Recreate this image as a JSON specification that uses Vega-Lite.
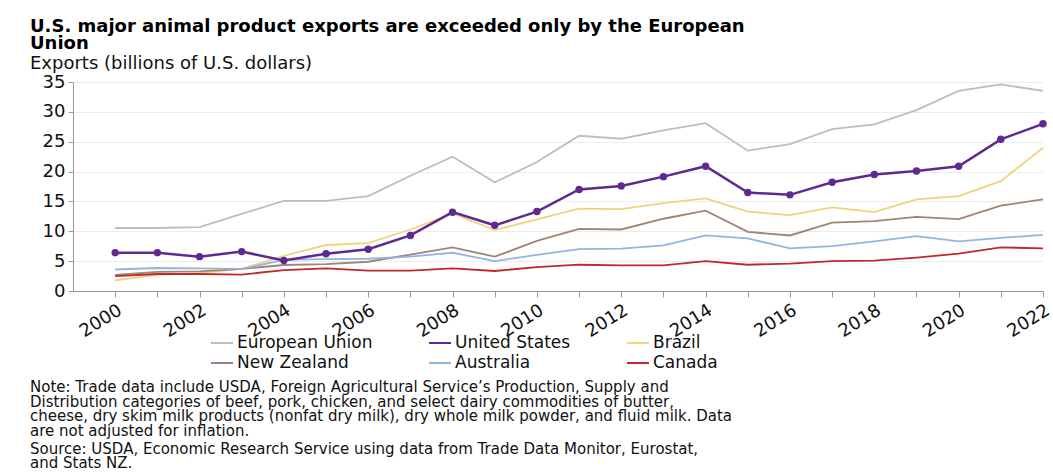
{
  "$schema": "https://vega.github.io/schema/vega-lite/v6.json",
  "padding": {"left": 30, "top": 18, "right": 10, "bottom": 0},
  "background": "white",
  "config": {
    "font": "DejaVu Sans",
    "view": {"stroke": null},
    "axis": {"labelFont": "DejaVu Sans", "labelColor": "#111", "domainColor": "#9a9a9a", "tickColor": "#9a9a9a"}
  },
  "title": {
    "text": [
      "Note: Trade data include USDA, Foreign Agricultural Service’s Production, Supply and",
      "Distribution categories of beef, pork, chicken, and select dairy commodities of butter,",
      "cheese, dry skim milk products (nonfat dry milk), dry whole milk powder, and fluid milk. Data",
      "are not adjusted for inflation."
    ],
    "subtitle": ["Source: USDA, Economic Research Service using data from Trade Data Monitor, Eurostat,", "and Stats NZ."],
    "orient": "bottom",
    "anchor": "start",
    "font": "DejaVu Sans",
    "fontSize": 15,
    "fontWeight": "normal",
    "lineHeight": 14.5,
    "color": "#111",
    "subtitleFont": "DejaVu Sans",
    "subtitleFontSize": 15,
    "subtitleLineHeight": 14.5,
    "subtitleColor": "#111",
    "subtitlePadding": 3,
    "offset": 9
  },
  "datasets": {
    "exports": [
      {"year": 2000, "country": "European Union", "value": 10.55},
      {"year": 2001, "country": "European Union", "value": 10.55},
      {"year": 2002, "country": "European Union", "value": 10.7},
      {"year": 2003, "country": "European Union", "value": 12.9},
      {"year": 2004, "country": "European Union", "value": 15.1},
      {"year": 2005, "country": "European Union", "value": 15.1},
      {"year": 2006, "country": "European Union", "value": 15.9},
      {"year": 2007, "country": "European Union", "value": 19.3},
      {"year": 2008, "country": "European Union", "value": 22.5},
      {"year": 2009, "country": "European Union", "value": 18.2},
      {"year": 2010, "country": "European Union", "value": 21.6},
      {"year": 2011, "country": "European Union", "value": 26.0},
      {"year": 2012, "country": "European Union", "value": 25.5},
      {"year": 2013, "country": "European Union", "value": 26.9},
      {"year": 2014, "country": "European Union", "value": 28.1},
      {"year": 2015, "country": "European Union", "value": 23.5},
      {"year": 2016, "country": "European Union", "value": 24.6},
      {"year": 2017, "country": "European Union", "value": 27.1},
      {"year": 2018, "country": "European Union", "value": 27.9},
      {"year": 2019, "country": "European Union", "value": 30.3},
      {"year": 2020, "country": "European Union", "value": 33.5},
      {"year": 2021, "country": "European Union", "value": 34.6},
      {"year": 2022, "country": "European Union", "value": 33.5},
      {"year": 2000, "country": "United States", "value": 6.4},
      {"year": 2001, "country": "United States", "value": 6.4},
      {"year": 2002, "country": "United States", "value": 5.75},
      {"year": 2003, "country": "United States", "value": 6.6},
      {"year": 2004, "country": "United States", "value": 5.1},
      {"year": 2005, "country": "United States", "value": 6.25},
      {"year": 2006, "country": "United States", "value": 7.0},
      {"year": 2007, "country": "United States", "value": 9.3},
      {"year": 2008, "country": "United States", "value": 13.2},
      {"year": 2009, "country": "United States", "value": 11.0},
      {"year": 2010, "country": "United States", "value": 13.3},
      {"year": 2011, "country": "United States", "value": 17.0},
      {"year": 2012, "country": "United States", "value": 17.6},
      {"year": 2013, "country": "United States", "value": 19.15},
      {"year": 2014, "country": "United States", "value": 20.9},
      {"year": 2015, "country": "United States", "value": 16.5},
      {"year": 2016, "country": "United States", "value": 16.1},
      {"year": 2017, "country": "United States", "value": 18.2},
      {"year": 2018, "country": "United States", "value": 19.5},
      {"year": 2019, "country": "United States", "value": 20.1},
      {"year": 2020, "country": "United States", "value": 20.9},
      {"year": 2021, "country": "United States", "value": 25.4},
      {"year": 2022, "country": "United States", "value": 28.0},
      {"year": 2000, "country": "Brazil", "value": 1.8},
      {"year": 2001, "country": "Brazil", "value": 2.7},
      {"year": 2002, "country": "Brazil", "value": 3.0},
      {"year": 2003, "country": "Brazil", "value": 3.7},
      {"year": 2004, "country": "Brazil", "value": 5.9},
      {"year": 2005, "country": "Brazil", "value": 7.7},
      {"year": 2006, "country": "Brazil", "value": 8.0},
      {"year": 2007, "country": "Brazil", "value": 10.3},
      {"year": 2008, "country": "Brazil", "value": 13.0},
      {"year": 2009, "country": "Brazil", "value": 10.2},
      {"year": 2010, "country": "Brazil", "value": 12.0},
      {"year": 2011, "country": "Brazil", "value": 13.8},
      {"year": 2012, "country": "Brazil", "value": 13.7},
      {"year": 2013, "country": "Brazil", "value": 14.7},
      {"year": 2014, "country": "Brazil", "value": 15.5},
      {"year": 2015, "country": "Brazil", "value": 13.3},
      {"year": 2016, "country": "Brazil", "value": 12.7},
      {"year": 2017, "country": "Brazil", "value": 14.0},
      {"year": 2018, "country": "Brazil", "value": 13.2},
      {"year": 2019, "country": "Brazil", "value": 15.35},
      {"year": 2020, "country": "Brazil", "value": 15.9},
      {"year": 2021, "country": "Brazil", "value": 18.4},
      {"year": 2022, "country": "Brazil", "value": 24.0},
      {"year": 2000, "country": "New Zealand", "value": 2.7},
      {"year": 2001, "country": "New Zealand", "value": 3.2},
      {"year": 2002, "country": "New Zealand", "value": 3.3},
      {"year": 2003, "country": "New Zealand", "value": 3.7},
      {"year": 2004, "country": "New Zealand", "value": 4.35},
      {"year": 2005, "country": "New Zealand", "value": 4.5},
      {"year": 2006, "country": "New Zealand", "value": 4.9},
      {"year": 2007, "country": "New Zealand", "value": 6.1},
      {"year": 2008, "country": "New Zealand", "value": 7.3},
      {"year": 2009, "country": "New Zealand", "value": 5.75},
      {"year": 2010, "country": "New Zealand", "value": 8.4},
      {"year": 2011, "country": "New Zealand", "value": 10.4},
      {"year": 2012, "country": "New Zealand", "value": 10.3},
      {"year": 2013, "country": "New Zealand", "value": 12.1},
      {"year": 2014, "country": "New Zealand", "value": 13.45},
      {"year": 2015, "country": "New Zealand", "value": 9.9},
      {"year": 2016, "country": "New Zealand", "value": 9.3},
      {"year": 2017, "country": "New Zealand", "value": 11.45},
      {"year": 2018, "country": "New Zealand", "value": 11.7},
      {"year": 2019, "country": "New Zealand", "value": 12.4},
      {"year": 2020, "country": "New Zealand", "value": 12.05},
      {"year": 2021, "country": "New Zealand", "value": 14.3},
      {"year": 2022, "country": "New Zealand", "value": 15.35},
      {"year": 2000, "country": "Australia", "value": 3.6},
      {"year": 2001, "country": "Australia", "value": 3.85},
      {"year": 2002, "country": "Australia", "value": 3.8},
      {"year": 2003, "country": "Australia", "value": 3.7},
      {"year": 2004, "country": "Australia", "value": 5.2},
      {"year": 2005, "country": "Australia", "value": 5.35},
      {"year": 2006, "country": "Australia", "value": 5.4},
      {"year": 2007, "country": "Australia", "value": 5.75},
      {"year": 2008, "country": "Australia", "value": 6.4},
      {"year": 2009, "country": "Australia", "value": 5.0},
      {"year": 2010, "country": "Australia", "value": 6.05},
      {"year": 2011, "country": "Australia", "value": 7.0},
      {"year": 2012, "country": "Australia", "value": 7.1},
      {"year": 2013, "country": "Australia", "value": 7.65},
      {"year": 2014, "country": "Australia", "value": 9.3},
      {"year": 2015, "country": "Australia", "value": 8.8},
      {"year": 2016, "country": "Australia", "value": 7.15},
      {"year": 2017, "country": "Australia", "value": 7.5},
      {"year": 2018, "country": "Australia", "value": 8.3},
      {"year": 2019, "country": "Australia", "value": 9.2},
      {"year": 2020, "country": "Australia", "value": 8.3},
      {"year": 2021, "country": "Australia", "value": 8.9},
      {"year": 2022, "country": "Australia", "value": 9.4},
      {"year": 2000, "country": "Canada", "value": 2.5},
      {"year": 2001, "country": "Canada", "value": 2.85},
      {"year": 2002, "country": "Canada", "value": 2.85},
      {"year": 2003, "country": "Canada", "value": 2.75},
      {"year": 2004, "country": "Canada", "value": 3.5},
      {"year": 2005, "country": "Canada", "value": 3.8},
      {"year": 2006, "country": "Canada", "value": 3.4},
      {"year": 2007, "country": "Canada", "value": 3.4},
      {"year": 2008, "country": "Canada", "value": 3.8},
      {"year": 2009, "country": "Canada", "value": 3.35},
      {"year": 2010, "country": "Canada", "value": 4.0},
      {"year": 2011, "country": "Canada", "value": 4.4},
      {"year": 2012, "country": "Canada", "value": 4.3},
      {"year": 2013, "country": "Canada", "value": 4.3},
      {"year": 2014, "country": "Canada", "value": 5.0},
      {"year": 2015, "country": "Canada", "value": 4.4},
      {"year": 2016, "country": "Canada", "value": 4.6},
      {"year": 2017, "country": "Canada", "value": 5.0},
      {"year": 2018, "country": "Canada", "value": 5.1},
      {"year": 2019, "country": "Canada", "value": 5.6},
      {"year": 2020, "country": "Canada", "value": 6.25},
      {"year": 2021, "country": "Canada", "value": 7.3},
      {"year": 2022, "country": "Canada", "value": 7.15}
    ]
  },
  "vconcat": [
    {
      "title": {
        "text": ["U.S. major animal product exports are exceeded only by the European", "Union"],
        "subtitle": "Exports (billions of U.S. dollars)",
        "anchor": "start",
        "font": "DejaVu Sans",
        "fontSize": 18,
        "fontWeight": "bold",
        "lineHeight": 17,
        "color": "#000",
        "subtitleFont": "DejaVu Sans",
        "subtitleFontSize": 18,
        "subtitleColor": "#111",
        "subtitlePadding": 2,
        "offset": 0
      },
      "width": 970,
      "height": 209,
      "data": {"name": "exports"},
      "encoding": {
        "x": {
          "field": "year", "type": "quantitative",
          "scale": {"domain": [1999, 2022], "nice": false, "zero": false},
          "axis": {
            "title": null,
            "values": [2000, 2001, 2002, 2003, 2004, 2005, 2006, 2007, 2008, 2009, 2010, 2011, 2012, 2013, 2014, 2015, 2016, 2017, 2018, 2019, 2020, 2021, 2022],
            "labelExpr": "datum.value % 2 == 0 ? datum.value : ''",
            "labelAngle": -32,
            "labelAlign": "right",
            "labelBaseline": "top",
            "labelFontSize": 18,
            "labelPadding": 4,
            "tickSize": 6,
            "grid": false,
            "labelOverlap": false
          }
        },
        "y": {
          "field": "value", "type": "quantitative",
          "scale": {"domain": [0, 35], "nice": false},
          "axis": {
            "title": null,
            "values": [0, 5, 10, 15, 20, 25, 30, 35],
            "labelFontSize": 18,
            "labelPadding": 3,
            "tickSize": 5,
            "grid": true,
            "gridColor": "#ececec",
            "minExtent": 43
          }
        },
        "color": {
          "field": "country", "type": "nominal",
          "scale": {
            "domain": ["European Union", "United States", "Brazil", "New Zealand", "Australia", "Canada"],
            "range": ["#bdbdbd", "#5e2a92", "#f2d27c", "#9e8575", "#92b5e3", "#c1272d"]
          },
          "legend": {
            "title": null,
            "orient": "none",
            "legendX": 137,
            "legendY": 249,
            "direction": "horizontal",
            "columns": 3,
            "symbolType": "stroke",
            "symbolSize": 484,
            "symbolStrokeWidth": 2,
            "labelFont": "DejaVu Sans",
            "labelFontSize": 17,
            "labelColor": "#111",
            "labelOffset": 3,
            "columnPadding": 52,
            "rowPadding": -2
          }
        }
      },
      "layer": [
        {
          "transform": [{"filter": "datum.country != 'United States'"}],
          "mark": {"type": "line", "strokeWidth": 1.8}
        },
        {
          "transform": [{"filter": "datum.country == 'United States'"}],
          "mark": {"type": "line", "strokeWidth": 2.5}
        },
        {
          "transform": [{"filter": "datum.country == 'United States'"}],
          "mark": {"type": "point", "filled": true, "opacity": 1, "size": 55}
        }
      ]
    }
  ]
}
